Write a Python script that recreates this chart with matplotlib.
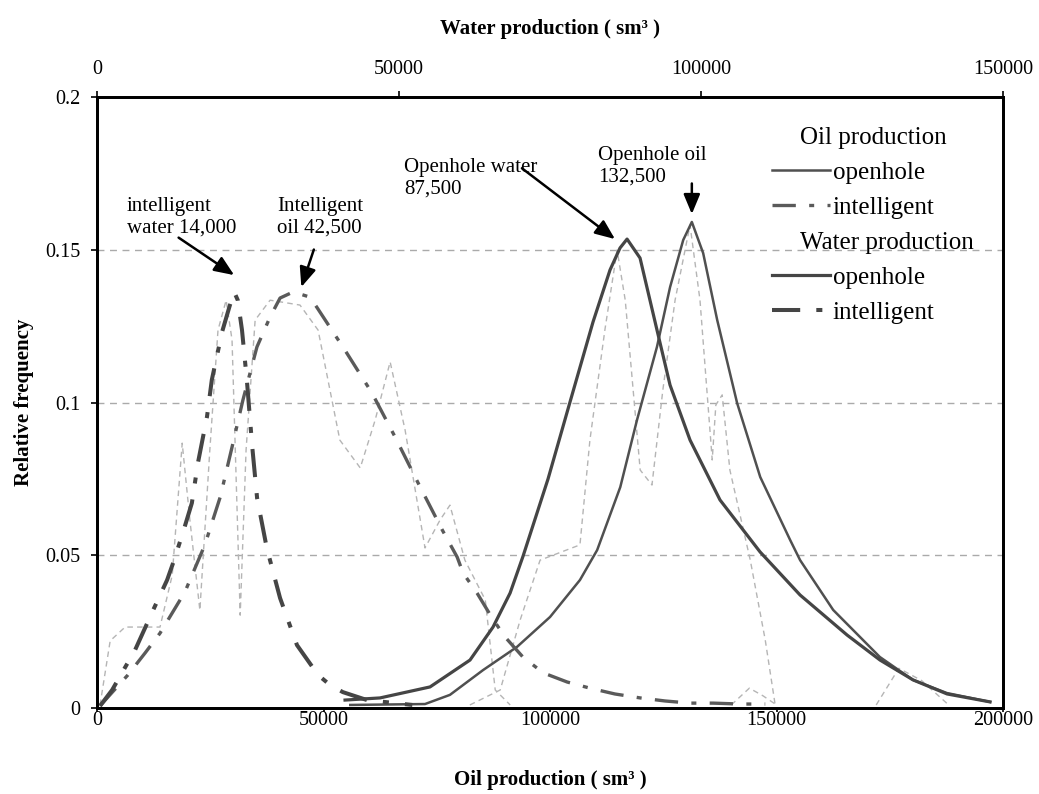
import numpy as np
import matplotlib
matplotlib.use("Agg")
import matplotlib.pyplot as plt
from matplotlib.lines import Line2D

plt.rcParams['font.family'] = ['Liberation Serif', 'DejaVu Serif']

# --- values ---
oil_ticks = [0, 50000, 100000, 150000, 200000]
water_ticks = [0, 50000, 100000, 150000]
freq_ticks = [0, 0.05, 0.1, 0.15, 0.2]
freq_labels = ['0', '0.05', '0.1', '0.15', '0.2']

# oil production, openhole (bottom axis)
oil_open_x = [55900, 72400, 77900, 85200, 92700, 100000, 106600, 110400, 115500, 119200,
              123600, 126500, 129400, 131300, 133800, 136900, 141300, 146400, 153000, 155200,
              162500, 172800, 180100, 187600, 197100]
oil_open_y = [0.001, 0.0013, 0.0043, 0.0124, 0.02, 0.0298, 0.0419, 0.0517, 0.0723, 0.0943,
              0.1182, 0.1378, 0.1532, 0.1591, 0.1489, 0.127, 0.0998, 0.0756, 0.055, 0.0484,
              0.0321, 0.0167, 0.0092, 0.0049, 0.002]

# oil production, intelligent (bottom axis)
oil_int_x = [660, 1800, 6800, 10600, 13900, 19400, 23800, 27200, 29800, 32200,
             35300, 38200, 40400, 43300, 47000, 48600, 54700, 60700, 65800, 70900,
             76200, 79500, 80800, 83900, 87200, 90100, 94000, 98500, 103800, 108800,
             114300, 119900, 125400, 130900, 136000, 141900, 147500]
oil_int_y = [0.0007, 0.0026, 0.0108, 0.018, 0.0245, 0.038, 0.0534, 0.0691, 0.0854, 0.1008,
             0.1182, 0.128, 0.1342, 0.1362, 0.1345, 0.131, 0.1172, 0.1031, 0.0887, 0.0736,
             0.0583, 0.0494, 0.0442, 0.0376, 0.0295, 0.0232, 0.0167, 0.0115, 0.0085, 0.0065,
             0.0046, 0.0033, 0.0023, 0.0016, 0.0016, 0.0013, 0.0013]

# water production, openhole (top axis)
water_open_x = [41060, 46850, 55130, 61750, 65560, 68380, 70530, 74670, 78310, 82120,
                84930, 86590, 87750, 89900, 92710, 94870, 98180, 103140, 109770, 116390,
                124170, 129630, 135100, 140730, 147850]
water_open_y = [0.0026, 0.0033, 0.0069, 0.0157, 0.0265, 0.0376, 0.0497, 0.075, 0.1002, 0.1264,
                0.1434, 0.1506, 0.1535, 0.1473, 0.1237, 0.1057, 0.0877, 0.0681, 0.0511, 0.037,
                0.0239, 0.0157, 0.0092, 0.0046, 0.002]

# water production, intelligent (top axis)
water_int_x = [500, 2500, 6300, 9300, 11600, 12600, 14200, 15700, 16700, 18200,
               19000, 20700, 22000, 22700, 23300, 24000, 24800, 25700, 26500, 28100,
               30300, 33100, 36600, 38600, 40700, 44700, 52200]
water_int_y = [0.0007, 0.0059, 0.019, 0.0321, 0.0419, 0.0475, 0.0573, 0.0671, 0.0802, 0.0953,
               0.1074, 0.1231, 0.1319, 0.1362, 0.1335, 0.1237, 0.1074, 0.0854, 0.0687, 0.0524,
               0.036, 0.0206, 0.0108, 0.0075, 0.0052, 0.0026, 0.001]

# faint raw frequency traces (bottom axis)
raw_left_x = [660, 2900, 6200, 13900, 16600, 18800, 20500, 22700, 24900, 26700,
              28500, 29800, 31600, 32900, 34900, 38200, 44800, 48800, 53600, 58100,
              61400, 64700, 68000, 72400, 75700, 77900, 81200, 85700, 87900, 91200]
raw_left_y = [0.001, 0.022, 0.0265, 0.0265, 0.0435, 0.0867, 0.0615, 0.032, 0.0845, 0.1237,
              0.1335, 0.1205, 0.0304, 0.0845, 0.127, 0.1335, 0.1319, 0.1237, 0.0877, 0.0786,
              0.0943, 0.1133, 0.091, 0.0524, 0.0615, 0.0664, 0.0484, 0.0354, 0.0059, 0.001]
raw_right_x = [82300, 89000, 93400, 97800, 106600, 108800, 112100, 114800, 116600, 119900,
               122500, 124900, 127600, 130900, 133100, 135800, 136600, 138000, 139700, 144200,
               147500, 149700]
raw_right_y = [0.001, 0.0059, 0.0288, 0.0484, 0.0534, 0.0877, 0.1237, 0.1499, 0.1335, 0.0779,
               0.073, 0.1041, 0.1335, 0.1581, 0.1335, 0.0812, 0.0992, 0.1025, 0.0779, 0.0484,
               0.0223, 0.001]
raw_tail_x = [140000, 144000, 147000, 150000, np.nan, 172000, 177000, 182000, 188000]
raw_tail_y = [0.001, 0.0065, 0.004, 0.001, np.nan, 0.001, 0.013, 0.009, 0.001]

fig = plt.figure(figsize=(10.39, 7.94), dpi=100)
ax = fig.add_axes([0.0934, 0.1083, 0.872, 0.7695])
ax2 = ax.twiny()

raw_kw = dict(color='#b5b5b5', lw=1.0, dashes=(4, 3))
ax.plot(raw_left_x, raw_left_y, **raw_kw)
ax.plot(raw_right_x, raw_right_y, **raw_kw)
ax.plot(raw_tail_x, raw_tail_y, **raw_kw)

l_oil_open, = ax.plot(oil_open_x, oil_open_y, color='#505050', lw=1.8)
l_oil_int, = ax.plot(oil_int_x, oil_int_y, color='#5a5a5a', lw=2.4, dashes=(7, 4, 1.5, 4))
l_wat_open, = ax2.plot(water_open_x, water_open_y, color='#454545', lw=2.3)
l_wat_int, = ax2.plot(water_int_x, water_int_y, color='#454545', lw=2.9, dashes=(7, 4, 1.5, 4))

ax.set_xlim(0, 200000)
ax.set_ylim(0, 0.2)
ax2.set_xlim(0, 150000)

ax.set_xticks(oil_ticks)
ax.set_xticklabels([str(t) for t in oil_ticks])
ax2.set_xticks(water_ticks)
ax2.set_xticklabels([str(t) for t in water_ticks])
ax.set_yticks(freq_ticks)
ax.set_yticklabels(freq_labels)

ax.yaxis.grid(True, color='#aaaaaa', lw=1.0, dashes=(5, 4))
ax.set_axisbelow(True)

for a in (ax, ax2):
    for s in a.spines.values():
        s.set_linewidth(2.0)
        s.set_color('black')

ax.tick_params(axis='x', direction='out', length=3, width=1.2, pad=-1, labelsize=14.5)
ax.tick_params(axis='y', direction='out', length=4, width=1.2, pad=8, labelsize=14.5)
ax2.tick_params(axis='x', direction='out', length=4, width=1.2, pad=9, labelsize=14.5)

ax.set_xlabel('Oil production ( sm³ )', fontsize=15, fontweight='bold', labelpad=29)
ax2.set_xlabel('Water production ( sm³ )', fontsize=15, fontweight='bold', labelpad=19)
ax.set_ylabel('Relative frequency', fontsize=15, fontweight='bold', labelpad=8)

# peak annotations
arrow = dict(arrowstyle='-|>,head_length=0.6,head_width=0.25', color='black', lw=1.8,
             mutation_scale=20, shrinkA=0, shrinkB=0)
i = int(np.argmax(water_int_y))
ax2.annotate('', xy=(water_int_x[i], water_int_y[i] + 0.0055), xytext=(-40, 27),
             textcoords='offset points', arrowprops=arrow)
i = int(np.argmax(oil_int_y))
ax.annotate('', xy=(oil_int_x[i] + 1800, oil_int_y[i] + 0.0016), xytext=(9, 27),
            textcoords='offset points', arrowprops=arrow)
i = int(np.argmax(water_open_y))
ax2.annotate('', xy=(water_open_x[i] - 2000, water_open_y[i]), xytext=(-67, 51),
             textcoords='offset points', arrowprops=arrow)
i = int(np.argmax(oil_open_y))
ax.annotate('', xy=(oil_open_x[i], oil_open_y[i] + 0.0026), xytext=(0, 22),
            textcoords='offset points', arrowprops=arrow)

note_kw = dict(fontsize=15, ha='left', va='center', linespacing=1.2)
ax.text(6600, 0.1607, 'intelligent\nwater 14,000', **note_kw)
ax.text(39700, 0.1607, 'Intelligent\noil 42,500', **note_kw)
ax.text(67800, 0.1735, 'Openhole water\n87,500', **note_kw)
ax.text(110600, 0.1774, 'Openhole oil\n132,500', **note_kw)

# legend with group headers
blank = Line2D([], [], color='none')
handles = [blank, l_oil_open, l_oil_int, blank, l_wat_open, l_wat_int]
labels = ['Oil production', 'openhole', 'intelligent', 'Water production', 'openhole', 'intelligent']
leg = ax2.legend(handles, labels, loc='upper left', bbox_to_anchor=(0.745, 0.9525),
                 frameon=False, fontsize=18, handlelength=2.3, handletextpad=0.12,
                 labelspacing=0.5, borderpad=0, borderaxespad=0)
for k in (0, 3):
    leg.get_texts()[k].set_x(-33)

fig.savefig('out.png', dpi=100)
